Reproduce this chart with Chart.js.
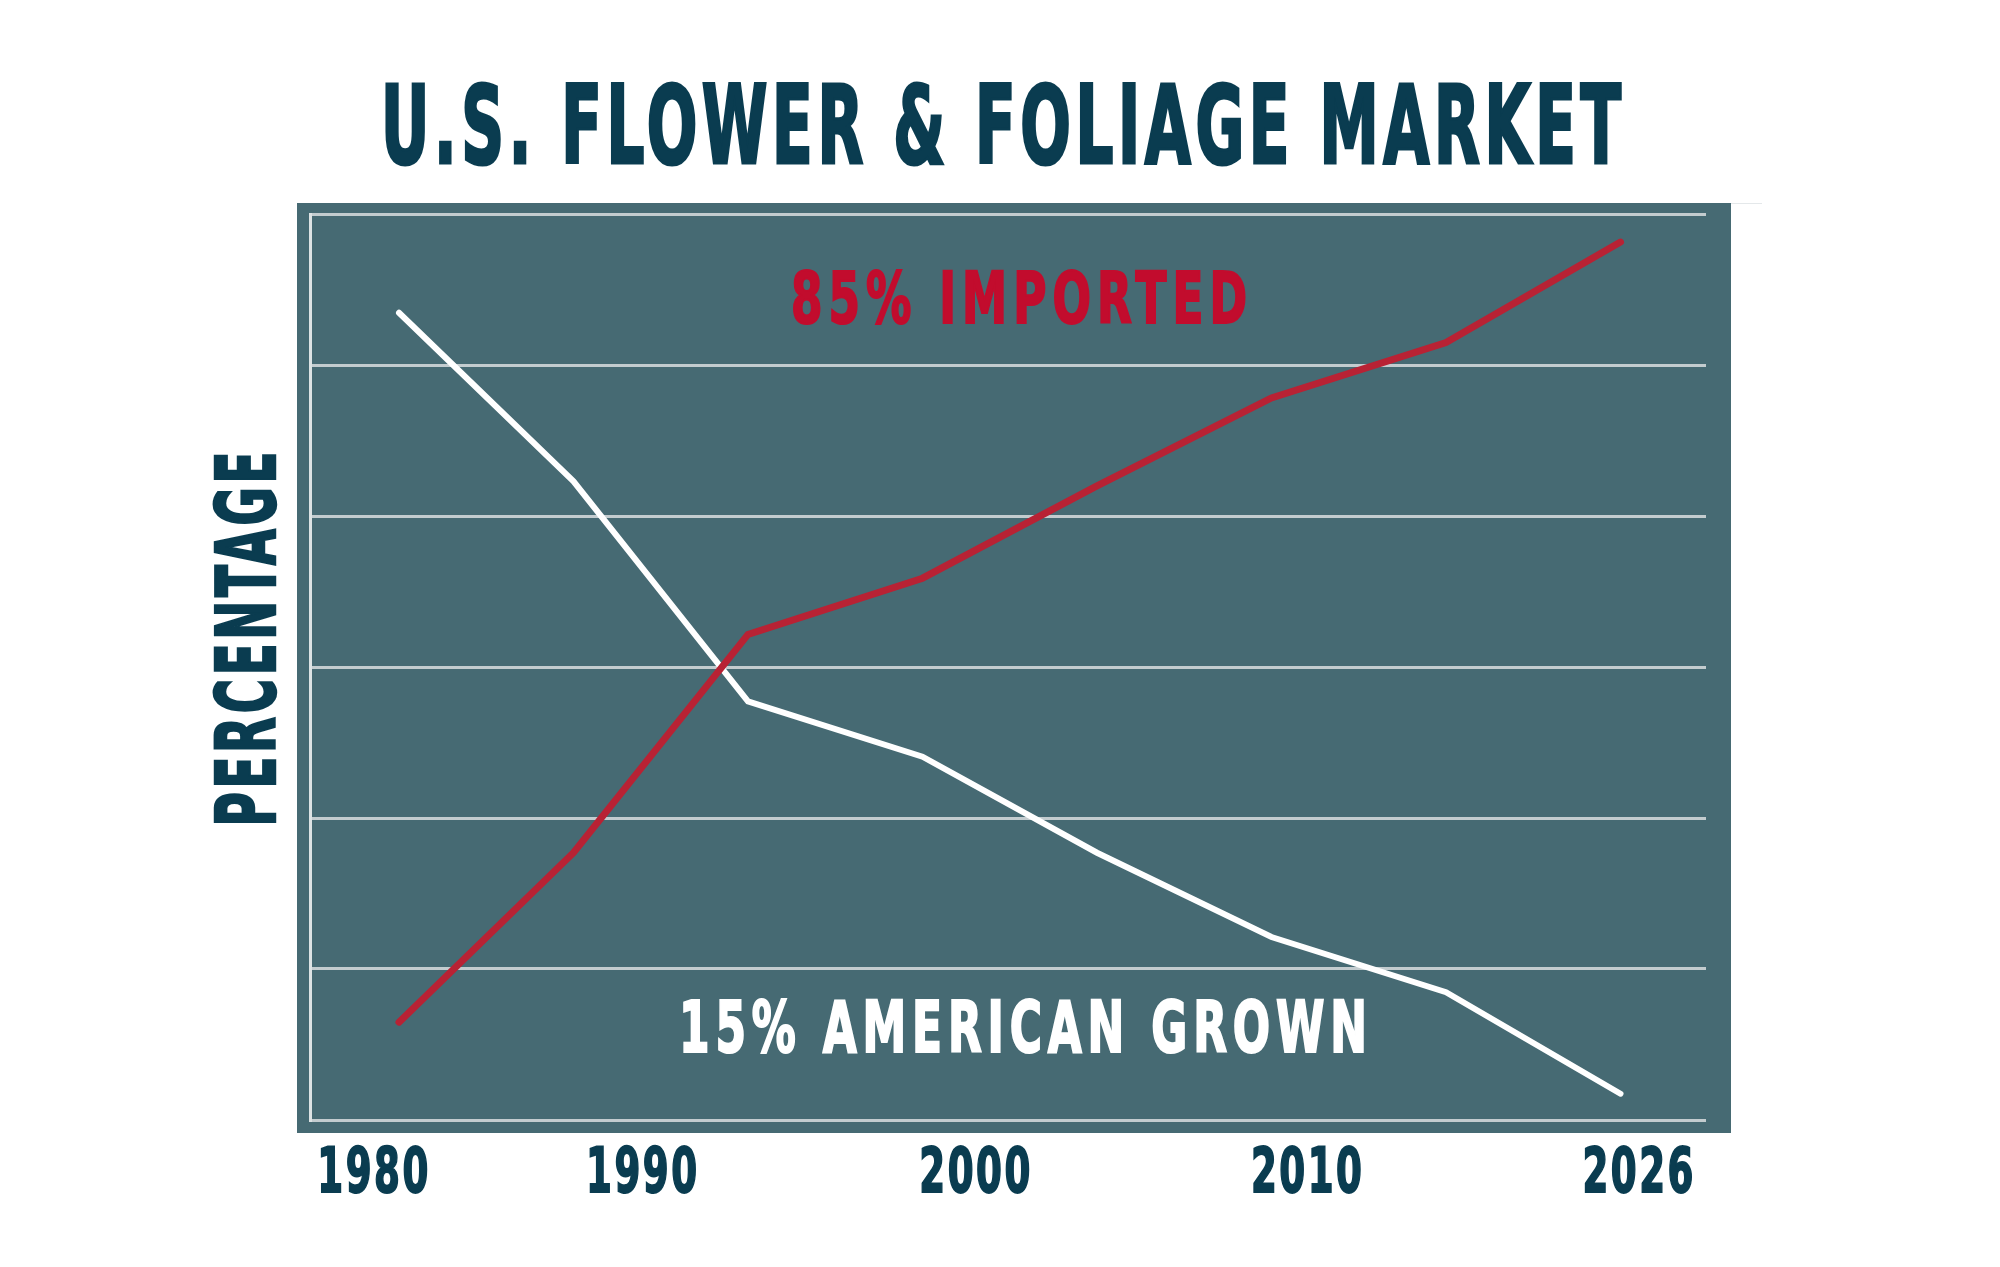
<!DOCTYPE html>
<html>
<head>
<meta charset="utf-8">
<script src="https://cdn.jsdelivr.net/npm/chart.js@4.4.1/dist/chart.umd.min.js"></script>
<style>
  html, body { margin: 0; padding: 0; background: #fff; }
</style>
</head>
<body>
<canvas id="grafico" width="2000" height="1267"></canvas>
<script>
// dati (percentuale 0-100)
const punti = [0, 1, 2, 3, 4, 5, 6, 7];
const importati = [10.8, 29.5, 53.6, 59.8, 70.0, 79.7, 85.8, 96.9];
const americani = [89.1, 70.5, 46.2, 40.1, 29.5, 20.2, 14.1, 2.9];
// etichette asse x e punto (indice) sotto cui stanno
const anni = ['1980', '1990', '2000', '2010', '2026'];
const anniAt = [-0.15, 1.39, 3.30, 5.20, 7.10];

const FONT = "'Liberation Sans Narrow', 'Arial Narrow', 'DejaVu Sans Condensed', sans-serif";
const BLU = '#0a3c50';

// testo condensato: lo stringo fino alla larghezza voluta, con un po' di spaziatura
function scritta(ctx, testo, cx, base, size, larg, colore, ruota, spazio) {
  ctx.save();
  ctx.translate(cx, base);
  if (ruota) ctx.rotate(-Math.PI / 2);
  ctx.font = 'bold ' + size + 'px ' + FONT;
  let sp = size * (spazio === undefined ? 0.08 : spazio);
  ctx.letterSpacing = sp + 'px';
  let w = ctx.measureText(testo).width - sp;
  ctx.scale(larg / w, 1);
  ctx.textAlign = 'center';
  ctx.textBaseline = 'alphabetic';
  ctx.fillStyle = colore;
  ctx.strokeStyle = colore;
  ctx.lineWidth = size * 0.03;
  ctx.fillText(testo, sp / 2, 0);
  ctx.strokeText(testo, sp / 2, 0);
  ctx.restore();
}

const sfondo = {
  id: 'sfondo',
  beforeDraw(chart) {
    let ctx = chart.ctx, a = chart.chartArea;
    ctx.save();
    ctx.fillStyle = '#fff';
    ctx.fillRect(0, 0, chart.width, chart.height);
    ctx.fillStyle = '#466a73';
    ctx.fillRect(a.left - 13, a.top - 11, a.right - a.left + 38, a.bottom - a.top + 24);
    ctx.strokeStyle = '#e4e8ea';
    ctx.lineWidth = 1;
    ctx.beginPath();
    ctx.moveTo(a.right + 25, a.top - 10.5);
    ctx.lineTo(a.right + 56, a.top - 10.5);
    ctx.stroke();
    ctx.restore();
  },
  afterDraw(chart) {
    let ctx = chart.ctx, sx = chart.scales.x;
    scritta(ctx, 'U.S. FLOWER & FOLIAGE MARKET', 1001, 163, 108, 1240, BLU, false, 0.07);
    scritta(ctx, 'PERCENTAGE', 275, 639, 82, 375, BLU, true, 0.07);
    scritta(ctx, '85% IMPORTED', 1019, 323, 71, 456, '#c20c2d', false, 0.12);
    scritta(ctx, '15% AMERICAN GROWN', 1023, 1052, 71, 688, '#ffffff', false, 0.12);
    // anni sotto l'asse, posizionati con la scala x
    anni.forEach((t, i) => {
      scritta(ctx, t, sx.getPixelForValue(anniAt[i]), 1192, 63, 111, BLU, false, 0.06);
    });
  }
};

let grafico = new Chart(document.getElementById('grafico'), {
  type: 'line',
  data: {
    datasets: [
      {
        label: '85% Imported',
        data: punti.map((x, i) => ({ x: x, y: importati[i] })),
        borderColor: '#b82234',
        borderWidth: 7,
        borderCapStyle: 'round',
        pointRadius: 0,
        tension: 0
      },
      {
        label: '15% American Grown',
        data: punti.map((x, i) => ({ x: x, y: americani[i] })),
        borderColor: '#ffffff',
        borderWidth: 6,
        borderCapStyle: 'round',
        pointRadius: 0,
        tension: 0
      }
    ]
  },
  options: {
    responsive: false,
    animation: false,
    devicePixelRatio: 1,
    layout: { padding: { left: 310, top: 214, right: 294, bottom: 0 } },
    plugins: {
      legend: { display: false },
      tooltip: { enabled: false }
    },
    scales: {
      x: {
        type: 'linear',
        min: -0.51,
        max: 7.49,
        grid: { display: false },
        border: { display: false },
        afterBuildTicks: s => { s.ticks = anniAt.map(v => ({ value: v })); },
        afterFit: s => { s.height = 147; },
        ticks: { display: false }
      },
      y: {
        min: 0,
        max: 100,
        afterBuildTicks: s => { s.ticks = [0, 1, 2, 3, 4, 5, 6].map(k => ({ value: k * 100 / 6 })); },
        afterFit: s => { s.width = 0; },
        ticks: { display: false },
        grid: { color: '#c3cccf', lineWidth: 3, drawTicks: false },
        border: { display: true, color: '#dde3e4', width: 3 }
      }
    }
  },
  plugins: [sfondo]
});
</script>
</body>
</html>
